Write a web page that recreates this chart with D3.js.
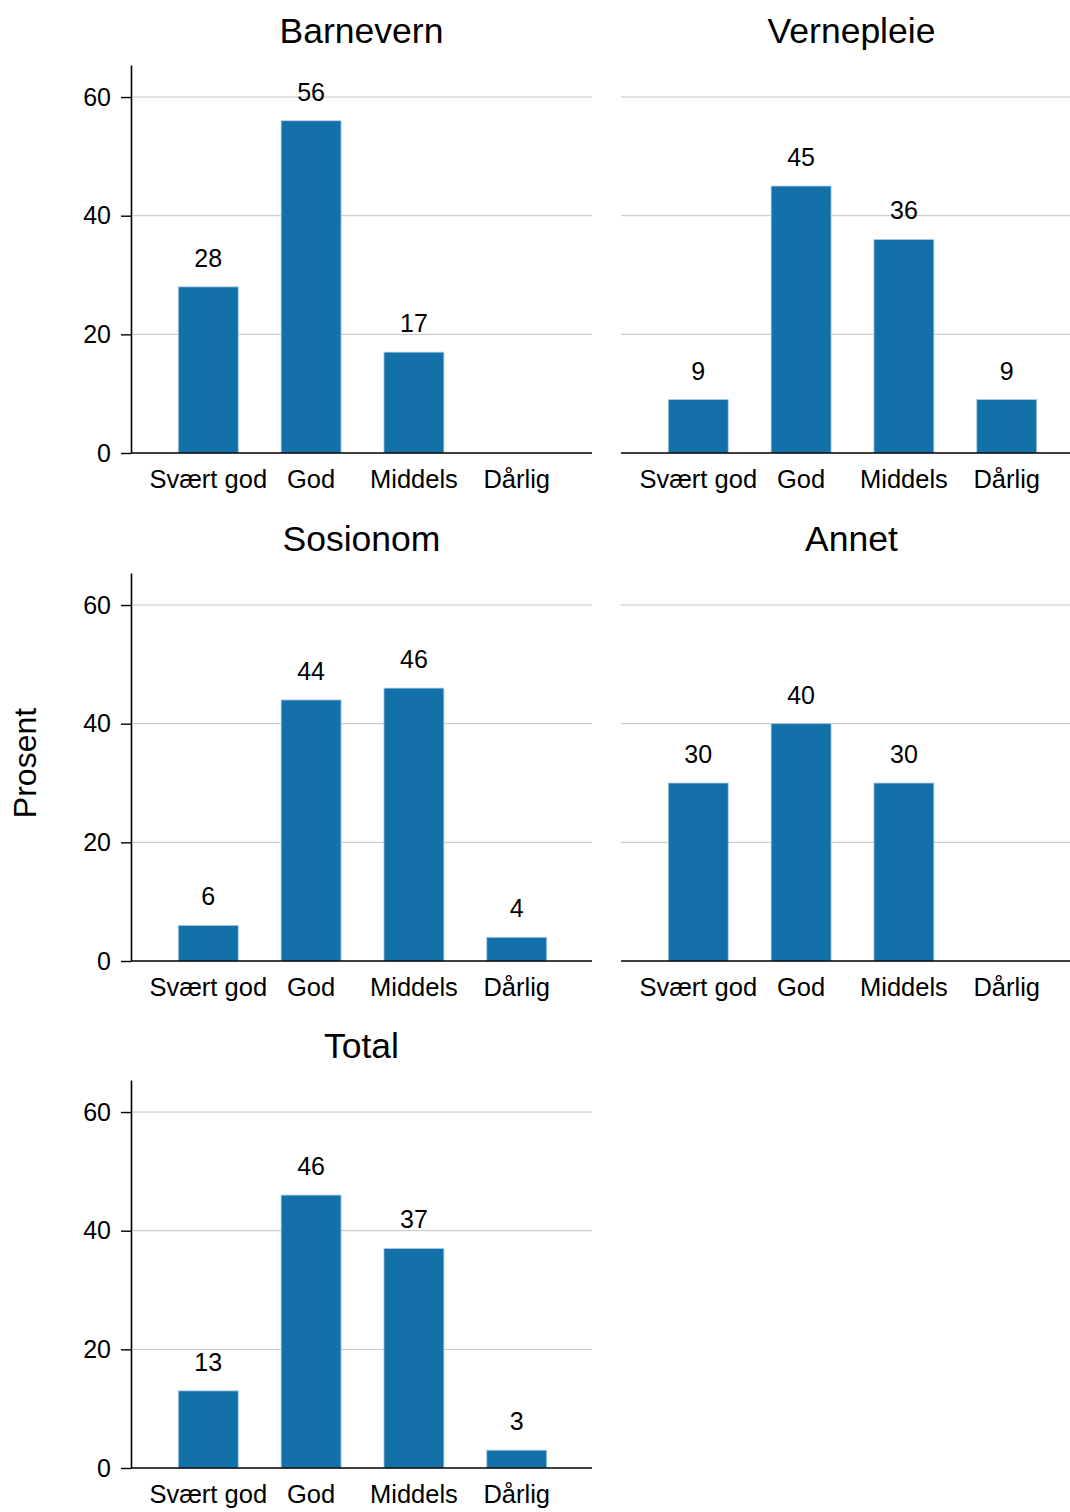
<!DOCTYPE html>
<html>
<head>
<meta charset="utf-8">
<script src="https://cdn.jsdelivr.net/npm/d3@7"></script>
<style>
  html, body { margin: 0; padding: 0; background: #fff; }
  svg { display: block; font-family: "Liberation Sans", Arial, sans-serif; }
</style>
</head>
<body>
<svg id="chart" width="1070" height="1512"></svg>
<script>
// Answer categories (x axis) and the groups shown as small multiples
const categories = ["Svært god", "God", "Middels", "Dårlig"];
const groups = ["Barnevern", "Vernepleie", "Sosionom", "Annet", "Total"];

// Percent per category for each group (null = no answers)
const barnevern  = [28, 56, 17, null];
const vernepleie = [9, 45, 36, 9];
const sosionom   = [6, 44, 46, 4];
const annet      = [30, 40, 30, null];
const total      = [13, 46, 37, 3];
const seriesByGroup = [barnevern, vernepleie, sosionom, annet, total];

const yTicks = [0, 20, 40, 60];
const yTitle = "Prosent";

// Layout
const colX = [131, 621];
const rowY = [65, 573, 1080];
const panelW = 461, panelH = 388;
const barColor = "#1470a9";
const barEdge = "#a9cde8";
const gridColor = "#c4c4c4";

const svg = d3.select("#chart");

const x = d3.scaleBand()
  .domain(categories)
  .range([1, panelW + 1])
  .paddingInner(0.417)
  .paddingOuter(0.45);

const y = d3.scaleLinear()
  .domain([0, 65.4])
  .range([panelH, 0]);

groups.forEach((name, i) => {
  const col = i % 2, row = Math.floor(i / 2);
  const g = svg.append("g")
    .attr("transform", `translate(${colX[col]},${rowY[row]})`);
  const values = seriesByGroup[i];

  // title
  g.append("text")
    .attr("x", panelW / 2)
    .attr("y", -22)
    .attr("text-anchor", "middle")
    .attr("font-size", 35.5)
    .attr("fill", "#000")
    .text(name);

  // gridlines
  g.append("g")
    .selectAll("line")
    .data(yTicks.filter(t => t > 0))
    .join("line")
    .attr("x1", 0).attr("x2", panelW)
    .attr("y1", d => y(d)).attr("y2", d => y(d))
    .attr("stroke", gridColor)
    .attr("stroke-width", 1);

  // bars
  const data = categories.map((c, k) => ({ c, v: values[k] })).filter(d => d.v != null);
  g.append("g")
    .selectAll("rect")
    .data(data)
    .join("rect")
    .attr("x", d => x(d.c))
    .attr("y", d => y(d.v))
    .attr("width", x.bandwidth())
    .attr("height", d => y(0) - y(d.v))
    .attr("fill", barColor)
    .attr("stroke", barEdge)
    .attr("stroke-width", 0.8);

  // value labels
  g.append("g")
    .selectAll("text")
    .data(data)
    .join("text")
    .attr("x", d => x(d.c) + x.bandwidth() / 2)
    .attr("y", d => y(d.v) - 20)
    .attr("text-anchor", "middle")
    .attr("font-size", 25)
    .attr("fill", "#000")
    .text(d => d.v);

  // x axis
  const xAxis = g.append("g")
    .attr("transform", `translate(0,${panelH})`)
    .call(d3.axisBottom(x).tickSize(0).tickPadding(0));
  xAxis.select(".domain")
    .attr("d", `M0,0H${panelW}`)
    .attr("stroke", "#000").attr("stroke-width", 1.6);
  xAxis.selectAll("text")
    .attr("font-size", 25.5)
    .attr("fill", "#000")
    .attr("dy", null)
    .attr("y", 35);

  // y axis only on the left column
  if (col === 0) {
    const yAxis = g.append("g")
      .call(d3.axisLeft(y).tickValues(yTicks).tickSize(10).tickPadding(10).tickSizeOuter(0));
    yAxis.select(".domain").attr("stroke", "#000").attr("stroke-width", 1.6);
    yAxis.selectAll(".tick line").attr("stroke", "#000").attr("stroke-width", 1.4);
    yAxis.selectAll("text").attr("font-size", 25).attr("fill", "#000");
  }
});

// shared y title
svg.append("text")
  .attr("transform", `translate(36,763) rotate(-90)`)
  .attr("text-anchor", "middle")
  .attr("font-size", 32)
  .attr("fill", "#000")
  .text(yTitle);
</script>
</body>
</html>
